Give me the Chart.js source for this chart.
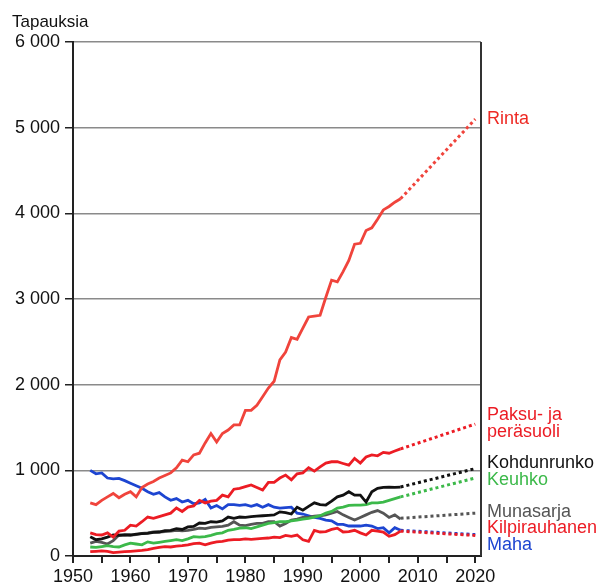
<!DOCTYPE html>
<html>
<head>
<meta charset="utf-8">
<script src="https://cdn.jsdelivr.net/npm/chart.js@4.4.0/dist/chart.umd.min.js"></script>
<style>
  body { margin: 0; background: #fff; }
  #wrap { width: 601px; height: 585px; }
</style>
</head>
<body>
<div id="wrap"><canvas id="cases-by-year"></canvas></div>
<script>
var years = [1953, 1954, 1955, 1956, 1957, 1958, 1959, 1960, 1961, 1962,
  1963, 1964, 1965, 1966, 1967, 1968, 1969, 1970, 1971, 1972,
  1973, 1974, 1975, 1976, 1977, 1978, 1979, 1980, 1981, 1982,
  1983, 1984, 1985, 1986, 1987, 1988, 1989, 1990, 1991, 1992,
  1993, 1994, 1995, 1996, 1997, 1998, 1999, 2000, 2001, 2002,
  2003, 2004, 2005, 2006, 2007];
var projYears = [2007, 2020];

var rinta = [620, 600, 650, 690, 730, 680, 720, 750, 690, 800,
  840, 870, 910, 940, 970, 1030, 1120, 1100, 1180, 1200,
  1320, 1430, 1330, 1430, 1470, 1530, 1530, 1700, 1700, 1760,
  1860, 1960, 2040, 2290, 2380, 2550, 2530, 2660, 2790, 2800,
  2810, 3020, 3220, 3200, 3320, 3450, 3640, 3650, 3800, 3830,
  3930, 4040, 4080, 4130, 4170];
var paksu = [270, 250, 245, 270, 220, 290, 300, 360, 350, 400,
  455, 440, 460, 480, 500, 560, 520, 570, 585, 650,
  620, 640, 650, 710, 690, 780, 790, 810, 830, 800,
  770, 860, 860, 910, 945, 890, 960, 970, 1030, 990,
  1040, 1085, 1100, 1100, 1080, 1060, 1140, 1085, 1155, 1180,
  1170, 1210, 1200, 1225, 1250];
var kohdunrunko = [225, 190, 200, 220, 245, 240, 250, 245, 255, 260,
  265, 275, 280, 295, 300, 320, 310, 340, 345, 385,
  380, 400, 395, 410, 455, 440, 455, 450, 460, 465,
  470, 475, 480, 515, 505, 490, 570, 535, 580, 620,
  600, 595, 640, 690, 710, 750, 710, 710, 630, 750,
  790, 800, 805, 800, 805];
var keuhko = [105, 100, 110, 120, 110, 105, 130, 150, 140, 130,
  165, 150, 160, 170, 180, 190, 180, 200, 225, 220,
  225, 240, 260, 270, 300, 310, 325, 330, 320, 340,
  360, 380, 390, 400, 400, 410, 420, 430, 440, 455,
  470, 500, 520, 560, 570, 590, 595, 595, 600, 620,
  620, 630, 650, 670, 690];
var munasarja = [150, 170, 160, 140, 180, 245, 240, 245, 250, 265,
  270, 280, 280, 285, 290, 300, 295, 300, 310, 325,
  320, 335, 340, 345, 360, 400, 360, 355, 370, 380,
  380, 400, 400, 350, 380, 420, 430, 450, 455, 465,
  470, 480, 500, 520, 480, 450, 420, 450, 480, 510,
  530, 500, 450, 480, 430];
var kilpirauhanen = [50, 55, 60, 55, 40, 45, 50, 55, 60, 65,
  75, 90, 100, 110, 105, 115, 120, 130, 145, 150,
  130, 150, 165, 170, 185, 190, 190, 200, 195, 200,
  205, 210, 220, 215, 240, 230, 245, 190, 170, 300,
  280, 285, 310, 325, 280, 285, 300, 270, 245, 300,
  290, 280, 230, 250, 290];
var maha = [1000, 960, 970, 910, 900, 905, 880, 850, 820, 790,
  750, 720, 740, 690, 650, 670, 630, 650, 610, 620,
  660, 560, 590, 550, 600, 600, 590, 600, 580, 600,
  570, 600, 570, 560, 565, 570, 500, 490, 470, 450,
  440, 420, 410, 370, 370, 350, 350, 350, 360, 350,
  320, 330, 270, 330, 300];

var rintaProj = [4170, 5100];
var paksuProj = [1250, 1540];
var kohdunrunkoProj = [805, 1020];
var keuhkoProj = [690, 910];
var munasarjaProj = [440, 500];
var kilpirauhanenProj = [290, 240];
var mahaProj = [300, 250];

var series = [
  { name: 'Rinta', color: '#f0443c', values: rinta, proj: rintaProj },
  { name: 'Paksu- ja peräsuoli', color: '#ec1c24', values: paksu, proj: paksuProj },
  { name: 'Kohdunrunko', color: '#111111', values: kohdunrunko, proj: kohdunrunkoProj },
  { name: 'Keuhko', color: '#3cb94a', values: keuhko, proj: keuhkoProj },
  { name: 'Munasarja', color: '#555555', values: munasarja, proj: munasarjaProj },
  { name: 'Kilpirauhanen', color: '#ec1c24', values: kilpirauhanen, proj: kilpirauhanenProj },
  { name: 'Maha', color: '#1d45d1', values: maha, proj: mahaProj }
];

// line end labels (text, colour, y in data units)
var endLabels = [
  ['Rinta', '#ee2a24', 5100],
  ['Paksu- ja', '#ec1c24', 1640],
  ['peräsuoli', '#ec1c24', 1445],
  ['Kohdunrunko', '#111111', 1085],
  ['Keuhko', '#3cb94a', 887],
  ['Munasarja', '#555555', 512],
  ['Kilpirauhanen', '#ec1c24', 325],
  ['Maha', '#1d45d1', 130]
];

function toPoints(xs, ys) {
  return xs.map(function (x, i) { return { x: x, y: ys[i] }; });
}

var datasets = [];
series.forEach(function (s) {
  datasets.push({
    label: s.name,
    data: toPoints(years, s.values),
    borderColor: s.color,
    borderWidth: 2.8,
    pointRadius: 0,
    tension: 0
  });
  datasets.push({
    label: s.name + ' ennuste',
    data: toPoints(projYears, s.proj),
    borderColor: s.color,
    borderWidth: 3,
    borderDash: [3, 3],
    pointRadius: 0,
    tension: 0
  });
});

function spaced(v) {
  return String(v).replace(/\B(?=(\d{3})+(?!\d))/g, ' ');
}

var extras = {
  id: 'extras',
  afterDraw: function (chart) {
    var ctx = chart.ctx;
    var area = chart.chartArea;
    var y = chart.scales.y;
    ctx.save();
    // right frame line
    ctx.strokeStyle = '#333';
    ctx.lineWidth = 2;
    ctx.beginPath();
    ctx.moveTo(area.right, area.top);
    ctx.lineTo(area.right, area.bottom);
    ctx.stroke();
    // y axis title
    ctx.font = '17px "Liberation Sans", Arial, sans-serif';
    ctx.fillStyle = '#111';
    ctx.textAlign = 'left';
    ctx.textBaseline = 'middle';
    ctx.fillText('Tapauksia', 12, 22);
    // series labels
    ctx.font = '18px "Liberation Sans", Arial, sans-serif';
    endLabels.forEach(function (l) {
      ctx.fillStyle = l[1];
      ctx.fillText(l[0], area.right + 6, y.getPixelForValue(l[2]));
    });
    ctx.restore();
  }
};

window.addEventListener('load', function () {
  Chart.defaults.font.family = '"Liberation Sans", Arial, sans-serif';
  Chart.defaults.font.size = 18;
  Chart.defaults.color = '#111';

  var ctx = document.getElementById('cases-by-year').getContext('2d');
  var chart = new Chart(ctx, {
    type: 'line',
    data: { datasets: datasets },
    options: {
      responsive: true,
      maintainAspectRatio: false,
      animation: false,
      layout: { padding: { left: 12, right: 120, top: 42, bottom: 0 } },
      plugins: {
        legend: { display: false },
        tooltip: { enabled: false }
      },
      scales: {
        x: {
          type: 'linear',
          min: 1950,
          max: 2021,
          afterFit: function (scale) { scale.height = 29; },
          border: { color: '#222', width: 2 },
          grid: { drawOnChartArea: false, drawTicks: true, tickLength: 7, tickColor: '#222', lineWidth: 2 },
          ticks: {
            stepSize: 5,
            includeBounds: false,
            autoSkip: false,
            maxRotation: 0,
            padding: 3,
            color: '#111',
            callback: function (v) { return v % 10 === 0 ? String(v) : ''; }
          }
        },
        y: {
          min: 0,
          max: 6000,
          afterFit: function (scale) { scale.width = 61; },
          border: { color: '#222', width: 2 },
          grid: { color: '#8a8a8a', lineWidth: 1.5, tickLength: 8, tickColor: '#222' },
          ticks: {
            stepSize: 1000,
            padding: 5,
            color: '#111',
            callback: function (v) { return spaced(v); }
          }
        }
      }
    },
    plugins: [extras]
  });
});
</script>
</body>
</html>
